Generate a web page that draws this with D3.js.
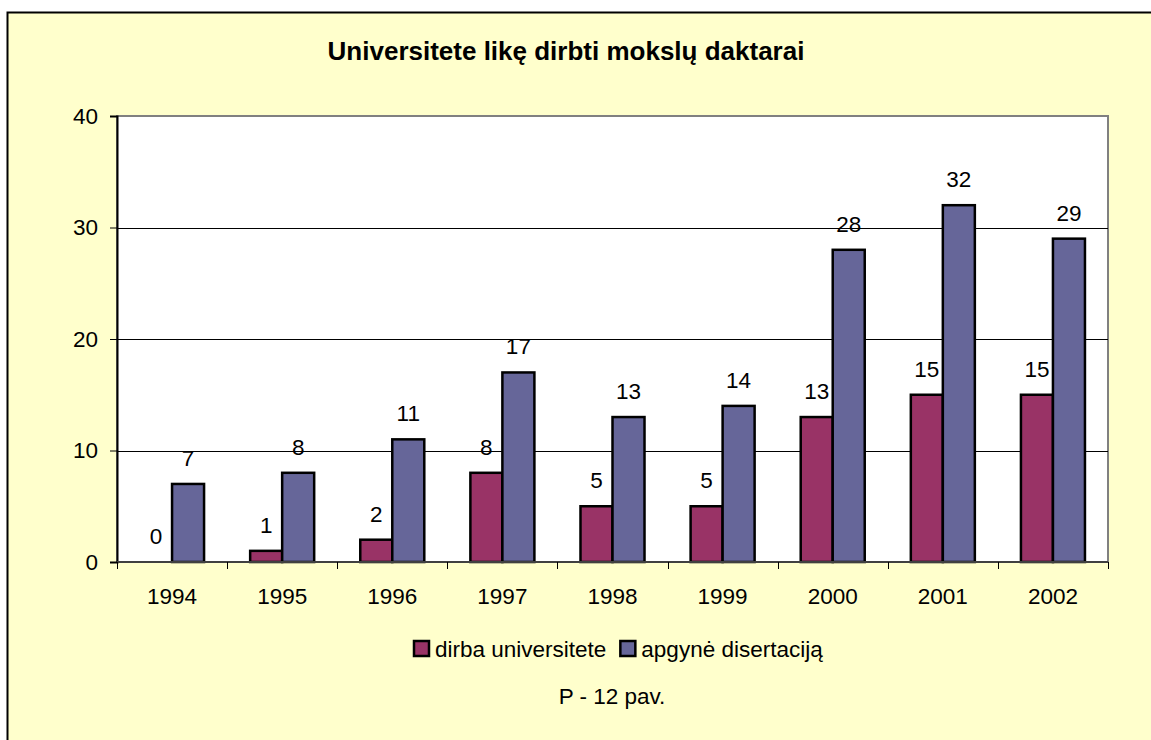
<!DOCTYPE html>
<html>
<head>
<meta charset="utf-8">
<script src="https://cdn.jsdelivr.net/npm/d3@7"></script>
<style>
  body { margin: 0; background: #fff; }
  svg { display: block; font-family: "Liberation Sans", Arial, sans-serif; }
</style>
</head>
<body>
<div id="chart"></div>
<script>
// data
var years = ["1994", "1995", "1996", "1997", "1998", "1999", "2000", "2001", "2002"]
var seriesNames = ["dirba universitete", "apgynė disertaciją"]
var dirba = [0, 1, 2, 8, 5, 5, 13, 15, 15]
var apgyne = [7, 8, 11, 17, 13, 14, 28, 32, 29]
var yTicks = [0, 10, 20, 30, 40]
var colors = ["#993366", "#666699"]

var width = 1151,
  height = 740,
  fontSize = 22.5

var svg = d3
  .select("#chart")
  .append("svg")
  .attr("width", width)
  .attr("height", height)

// chart frame (runs past right and bottom edge like the reference)
svg
  .append("rect")
  .attr("x", 7.5)
  .attr("y", 12.5)
  .attr("width", 1200)
  .attr("height", 800)
  .attr("fill", "#ffffcc")
  .attr("stroke", "#000")
  .attr("stroke-width", 2)

var plot = { left: 117, top: 116, right: 1108, bottom: 562 }

var x0 = d3.scaleBand().domain(years).range([plot.left, plot.right]).padding(0)

var x1 = d3
  .scaleBand()
  .domain(seriesNames)
  .range([0, x0.bandwidth()])
  .paddingInner(0)
  .paddingOuter(0.72)

var y = d3.scaleLinear().domain([0, 40]).range([plot.bottom, plot.top])

var rows = years.map(function(yr, i) {
  return { year: yr, values: [dirba[i], apgyne[i]] }
})

// plot area
svg
  .append("rect")
  .attr("x", plot.left)
  .attr("y", plot.top)
  .attr("width", plot.right - plot.left)
  .attr("height", plot.bottom - plot.top)
  .attr("fill", "#fff")
  .attr("stroke", "#808080")
  .attr("stroke-width", 2)

// gridlines
svg
  .append("g")
  .selectAll("line")
  .data(yTicks.filter(function(t) { return t > 0 && t < 40 }))
  .enter()
  .append("line")
  .attr("x1", plot.left)
  .attr("x2", plot.right)
  .attr("y1", function(d) { return Math.round(y(d)) + 0.5 })
  .attr("y2", function(d) { return Math.round(y(d)) + 0.5 })
  .attr("stroke", "#000")
  .attr("stroke-width", 1)

// bars
var groups = svg
  .append("g")
  .selectAll("g")
  .data(rows)
  .enter()
  .append("g")
  .attr("transform", function(d) { return "translate(" + x0(d.year) + ",0)" })

groups
  .selectAll("rect")
  .data(function(d) {
    return d.values.map(function(v, i) { return { name: seriesNames[i], value: v, i: i } })
  })
  .enter()
  .filter(function(d) { return d.value > 0 })
  .append("rect")
  .attr("x", function(d) { return x1(d.name) })
  .attr("y", function(d) { return y(d.value) })
  .attr("width", x1.bandwidth())
  .attr("height", function(d) { return y(0) - y(d.value) })
  .attr("fill", function(d) { return colors[d.i] })
  .attr("stroke", "#000")
  .attr("stroke-width", 2.5)

// value labels
groups
  .selectAll("text")
  .data(function(d) {
    return d.values.map(function(v, i) { return { name: seriesNames[i], value: v } })
  })
  .enter()
  .append("text")
  .attr("x", function(d) { return x1(d.name) + x1.bandwidth() / 2 })
  .attr("y", function(d) { return y(d.value) - 18 })
  .attr("text-anchor", "middle")
  .attr("font-size", fontSize)
  .attr("fill", "#000")
  .text(function(d) { return d.value })

// y axis
var yAxis = d3.axisLeft(y).tickValues(yTicks).tickSize(7).tickPadding(12)
var gy = svg
  .append("g")
  .attr("transform", "translate(" + plot.left + ",0)")
  .call(yAxis)
gy.select(".domain").attr("stroke", "#000").attr("stroke-width", 2)
gy.selectAll(".tick line").attr("stroke", "#000")
gy.selectAll(".tick text")
  .attr("font-size", fontSize)
  .attr("font-family", "Liberation Sans, Arial, sans-serif")
  .attr("fill", "#000")

// x axis with ticks between categories
var gx = svg
  .append("g")
  .attr("transform", "translate(0," + plot.bottom + ")")
gx.append("line")
  .attr("x1", plot.left)
  .attr("x2", plot.right)
  .attr("stroke", "#404040")
  .attr("stroke-width", 2)
gx.selectAll("line.tk")
  .data(years.concat(["end"]))
  .enter()
  .append("line")
  .attr("class", "tk")
  .attr("x1", function(d, i) { return Math.round(plot.left + i * x0.step()) + 0.5 })
  .attr("x2", function(d, i) { return Math.round(plot.left + i * x0.step()) + 0.5 })
  .attr("y1", 0)
  .attr("y2", 7)
  .attr("stroke", "#000")
gx.selectAll("text")
  .data(years)
  .enter()
  .append("text")
  .attr("x", function(d) { return x0(d) + x0.bandwidth() / 2 })
  .attr("y", 42)
  .attr("text-anchor", "middle")
  .attr("font-size", fontSize)
  .attr("fill", "#000")
  .text(function(d) { return d })

// title
svg
  .append("text")
  .attr("x", 566)
  .attr("y", 60)
  .attr("text-anchor", "middle")
  .attr("font-size", 26)
  .attr("font-weight", "bold")
  .text("Universitete likę dirbti mokslų daktarai")

// legend
var legend = svg.append("g").attr("transform", "translate(413,640)")
var lx = 0
seriesNames.forEach(function(name, i) {
  legend
    .append("rect")
    .attr("x", lx + 1)
    .attr("y", 1)
    .attr("width", 15)
    .attr("height", 15)
    .attr("fill", colors[i])
    .attr("stroke", "#000")
    .attr("stroke-width", 2.5)
  var t = legend
    .append("text")
    .attr("x", lx + 22)
    .attr("y", 17)
    .attr("font-size", fontSize)
    .text(name)
  lx += 22 + t.node().getComputedTextLength() + 13
})

// caption
svg
  .append("text")
  .attr("x", 612)
  .attr("y", 704)
  .attr("text-anchor", "middle")
  .attr("font-size", fontSize)
  .text("P - 12 pav.")
</script>
</body>
</html>
